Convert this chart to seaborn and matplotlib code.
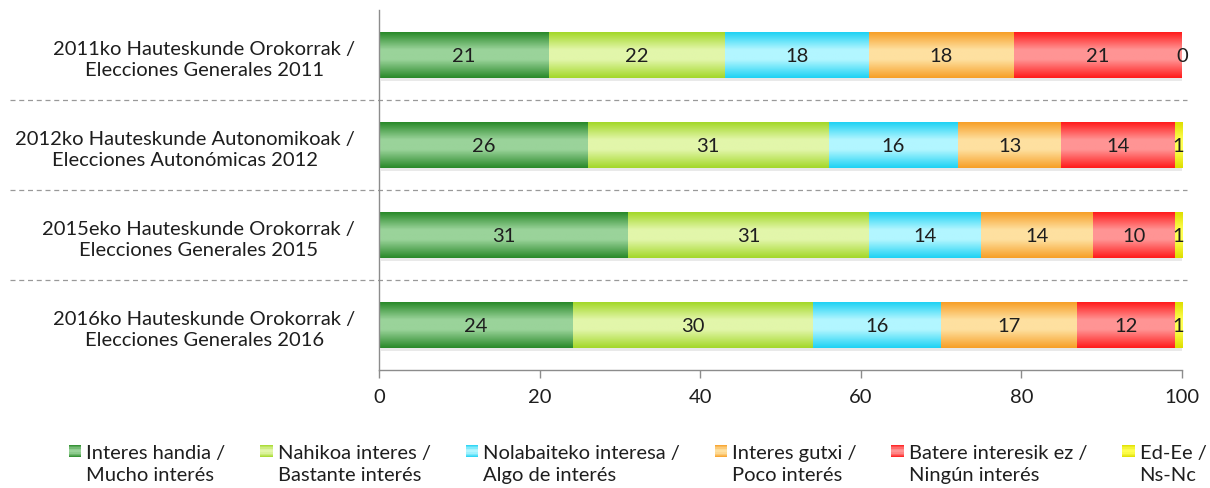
import matplotlib
matplotlib.use("Agg")
import matplotlib.pyplot as plt
import matplotlib.patheffects as pe
from matplotlib.colors import LinearSegmentedColormap
from matplotlib.legend_handler import HandlerBase
from matplotlib.patches import Rectangle
import numpy as np
import seaborn as sns

elections = [
    "2011ko Hauteskunde Orokorrak /\nElecciones Generales 2011",
    "2012ko Hauteskunde Autonomikoak /\nElecciones Autonómicas 2012",
    "2015eko Hauteskunde Orokorrak /\nElecciones Generales 2015",
    "2016ko Hauteskunde Orokorrak /\nElecciones Generales 2016",
]

mucho = [21.2, 26.0, 31.0, 24.2]
mucho_lbl = [21, 26, 31, 24]
bastante = [21.9, 30.0, 30.0, 29.8]
bastante_lbl = [22, 31, 31, 30]
algo = [17.9, 16.1, 14.0, 16.0]
algo_lbl = [18, 16, 14, 16]
poco = [18.1, 12.9, 13.9, 16.9]
poco_lbl = [18, 13, 14, 17]
ninguno = [20.9, 14.1, 10.2, 12.2]
ninguno_lbl = [21, 14, 10, 12]
nsnc = [0.0, 0.9, 0.9, 0.9]
nsnc_lbl = [0, 1, 1, 1]

series_names = [
    "Interes handia /\nMucho interés",
    "Nahikoa interes /\nBastante interés",
    "Nolabaiteko interesa /\nAlgo de interés",
    "Interes gutxi /\nPoco interés",
    "Batere interesik ez /\nNingún interés",
    "Ed-Ee /\nNs-Nc",
]
series_vals = [mucho, bastante, algo, poco, ninguno, nsnc]
series_lbls = [mucho_lbl, bastante_lbl, algo_lbl, poco_lbl, ninguno_lbl, nsnc_lbl]

# (edge colour, centre colour) of the gradient fills
grad_colors = [
    ("#2a8a2a", "#9ad39a"),
    ("#a4d82a", "#e2f6aa"),
    ("#20d2f4", "#b2f6ff"),
    ("#f7a028", "#fee0a0"),
    ("#ff1c1c", "#ff9494"),
    ("#dede00", "#ffff50"),
]

sns.set_style("white")
plt.rcParams["font.family"] = ["Lato", "DejaVu Sans"]
FS = 14.5
TXT = "#1e1e1e"
AXC = "#8c8c8c"


def grad_cmap(edge, light):
    return LinearSegmentedColormap.from_list(
        "g", [(0, edge), (0.38, light), (0.6, light), (1, edge)])


class GradHandler(HandlerBase):
    def create_artists(self, legend, orig_handle, xdescent, ydescent,
                       width, height, fontsize, trans):
        edge, light = orig_handle
        cmap = grad_cmap(edge, light)
        n = 10
        size = width
        y0 = -ydescent + fontsize * 0.63
        arts = []
        for i in range(n):
            r = Rectangle((-xdescent, y0 + size * (n - 1 - i) / n), size, size / n,
                          facecolor=cmap((i + 0.5) / n), edgecolor="none",
                          transform=trans)
            arts.append(r)
        return arts


fig = plt.figure(figsize=(12.1, 4.89), dpi=100)
ax = fig.add_axes([0.3132, 0.2413, 0.6636, 0.7362])

start = np.zeros(len(elections))
for vals, lbls, (edge, light) in zip(series_vals, series_lbls, grad_colors):
    vals = np.array(vals)
    before = len(ax.patches)
    sns.barplot(x=start + vals, y=elections, orient="h", width=0.5,
                color=edge, linewidth=0, ax=ax)
    new = ax.patches[before:]
    cmap = grad_cmap(edge, light)
    for p, s, v, lb in zip(new, start, vals, lbls):
        p.set_x(s)
        p.set_width(v)
        p.set_path_effects([pe.SimplePatchShadow(offset=(1.5, -2.5), shadow_rgbFace="#888888", alpha=0.18),
                            pe.Normal()])
        y = p.get_y()
        h = p.get_height()
        if v > 0:
            ax.imshow(np.linspace(0, 1, 60).reshape(-1, 1), cmap=cmap,
                      extent=[s, s + v, y + h, y], aspect="auto",
                      interpolation="bilinear", zorder=p.get_zorder() + 0.01)
        ax.text(s + v / 2, y + h / 2, str(lb), ha="center", va="center",
                fontsize=FS, color=TXT, zorder=10)
    start = start + vals

ax.set_xlim(0, 100)
ax.set_ylim(3.5, -0.5)
ax.set_xlabel("")
ax.set_ylabel("")
ax.set_xticks(range(0, 101, 20))
ax.set_yticks(range(len(elections)), elections)
ax.set_yticks([-0.5, 0.5, 1.5, 2.5, 3.5], minor=True)
for lbl in ax.get_yticklabels():
    lbl.set_multialignment("center")
    lbl.set_linespacing(1.3)
ax.tick_params(axis="y", which="major", length=0, pad=17, labelsize=FS, labelcolor=TXT)
ax.tick_params(axis="y", which="minor", length=6, width=1, color=AXC, direction="out")
ax.tick_params(axis="x", length=6, width=1, color=AXC, pad=7, labelsize=FS, labelcolor=TXT,
               direction="out", bottom=True)
for side in ["top", "right"]:
    ax.spines[side].set_visible(False)
for side in ["left", "bottom"]:
    ax.spines[side].set_color(AXC)
    ax.spines[side].set_linewidth(1)
ax.grid(False)

# dashed separators between the elections
for yb in [0.5, 1.5, 2.5]:
    ax.plot([-0.46, 1.006], [yb, yb], transform=ax.get_yaxis_transform(),
            color="#999999", lw=0.9, ls=(0, (4, 3)), clip_on=False, zorder=0)

handles = grad_colors
leg = fig.legend(handles, series_names, handler_map={tuple: GradHandler()},
                 loc="upper left", bbox_to_anchor=(0.057, 0.089), ncol=6,
                 frameon=False, fontsize=FS, handlelength=0.62, handleheight=0.62,
                 handletextpad=0.25, columnspacing=1.72, borderpad=0, borderaxespad=0)
for t in leg.get_texts():
    t.set_linespacing(1.3)
    t.set_color(TXT)

fig.savefig("out.png", dpi=100)
